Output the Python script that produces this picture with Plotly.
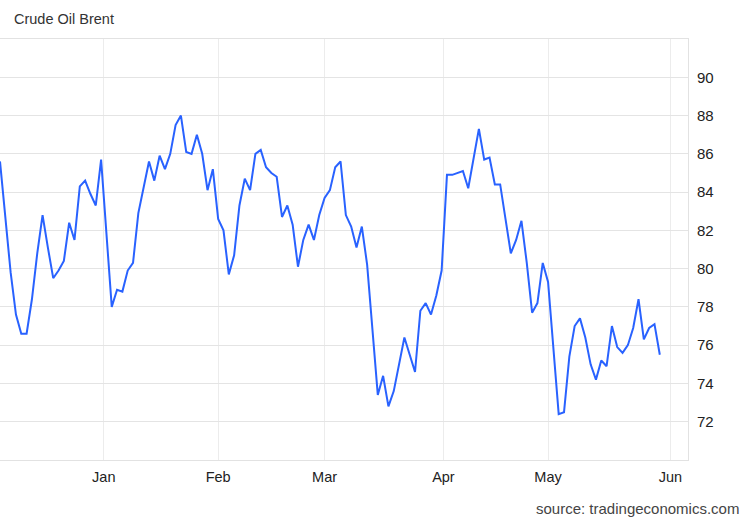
import numpy as np
import pandas as pd
import plotly.graph_objects as go

# ---------------- data ----------------
TITLE = "Crude Oil Brent"
SOURCE = "source: tradingeconomics.com"

HOLIDAYS = ["2022-12-26", "2023-01-02", "2023-04-07"]
DATES = [d for d in pd.bdate_range("2022-12-02", "2023-05-30")
         if d.strftime("%Y-%m-%d") not in HOLIDAYS]

PRICE_DEC = [85.6, 82.7, 79.8, 77.6, 76.6, 76.6, 78.4, 80.8, 82.8, 81.1,
             79.5, 79.9, 80.4, 82.4, 81.5, 84.3, 84.6, 83.9, 83.3, 85.7]
PRICE_JAN = [82.0, 78.0, 78.9, 78.8, 79.9, 80.3, 82.9, 84.2, 85.6, 84.6,
             85.9, 85.2, 86.0, 87.5, 88.0, 86.1, 86.0, 87.0, 86.0, 84.1, 85.2]
PRICE_FEB = [82.6, 82.0, 79.7, 80.7, 83.3, 84.7, 84.1, 86.0, 86.2, 85.3,
             85.0, 84.8, 82.7, 83.3, 82.3, 80.1, 81.5, 82.3, 81.5, 82.8]
PRICE_MAR = [83.7, 84.1, 85.3, 85.6, 82.8, 82.2, 81.1, 82.2, 80.2, 76.9,
             73.4, 74.4, 72.8, 73.6, 75.1, 76.4, 75.5, 74.6, 77.8, 78.2,
             77.6, 78.6, 79.9]
PRICE_APR = [84.9, 84.9, 85.0, 85.1, 84.2, 85.8, 87.3, 85.7, 85.8, 84.4,
             84.4, 82.6, 80.8, 81.5, 82.5, 80.3, 77.7, 78.2, 80.3]
PRICE_MAY = [79.3, 75.8, 72.4, 72.5, 75.4, 77.0, 77.4, 76.4, 75.0, 74.2,
             75.2, 74.9, 77.0, 75.9, 75.6, 76.0, 76.9, 78.4, 76.3, 76.9,
             77.1, 75.5]
PRICES = PRICE_DEC + PRICE_JAN + PRICE_FEB + PRICE_MAR + PRICE_APR + PRICE_MAY

MONTH_TICKS = ["2023-01-01", "2023-02-01", "2023-03-01",
               "2023-04-01", "2023-05-01", "2023-06-01"]
MONTH_LABELS = ["Jan", "Feb", "Mar", "Apr", "May", "Jun"]
Y_TICKS = [70, 72, 74, 76, 78, 80, 82, 84, 86, 88, 90, 92]
Y_LABELS = ["", "72", "74", "76", "78", "80", "82", "84", "86", "88", "90", ""]

# ---------------- ordinal (trading-day) axis helpers ----------------
idx = pd.DatetimeIndex(DATES)
cats = [d.strftime("%Y-%m-%d") for d in idx]


def ordinal_pos(day):
    d = pd.Timestamp(day)
    if d <= idx[-1]:
        j = idx.searchsorted(d)
        if idx[j] == d:
            return float(j)
        prev, nxt = idx[j - 1], idx[j]
        return (j - 1) + (d - prev) / (nxt - prev)
    return float(len(idx) - 1 + np.busday_count(idx[-1].date(), d.date()))


tick_pos = [ordinal_pos(m) for m in MONTH_TICKS]

FONT = "Liberation Sans, Arial, sans-serif"

fig = go.Figure()
fig.add_trace(go.Scatter(
    x=cats, y=PRICES, mode="lines",
    line=dict(color="#2962ff", width=2),
    hoverinfo="x+y", showlegend=False,
))

fig.update_layout(
    width=750, height=520,
    margin=dict(l=0, r=62, t=39, b=60),
    paper_bgcolor="white", plot_bgcolor="white",
    font=dict(family=FONT, size=15, color="#333333"),
    title=dict(text=TITLE, x=14 / 750, xanchor="left", xref="container",
               y=1 - 19 / 520, yanchor="middle", yref="container",
               font=dict(family=FONT, size=14.5, color="#333333")),
    showlegend=False,
)

fig.update_xaxes(
    type="category",
    range=[0, 129.3],
    tickmode="array", tickvals=tick_pos, ticktext=MONTH_LABELS,
    showgrid=True, gridcolor="#ececec", gridwidth=1,
    showline=True, linecolor="#e2e2e2", linewidth=1, mirror=True,
    ticks="", ticklabelstandoff=4,
    tickfont=dict(family=FONT, size=14.5, color="#222222"),
    zeroline=False,
)

fig.update_yaxes(
    side="right",
    range=[70, 92],
    tickmode="array", tickvals=Y_TICKS, ticktext=Y_LABELS,
    showgrid=True, gridcolor="#e4e4e4", gridwidth=1,
    showline=True, linecolor="#e2e2e2", linewidth=1, mirror=True,
    ticks="", ticklabelstandoff=5,
    tickfont=dict(family=FONT, size=15, color="#222222"),
    zeroline=False,
)

fig.add_annotation(
    text=SOURCE, xref="paper", yref="paper",
    x=741 / 688, y=-(508 - 460) / 421,
    xanchor="right", yanchor="middle", showarrow=False,
    font=dict(family=FONT, size=15, color="#444444"),
)

fig.write_html(
    "out.html",
    config={"displayModeBar": False},
    post_script="document.body.style.margin='0px';"
                "document.body.style.overflow='hidden';",
)
